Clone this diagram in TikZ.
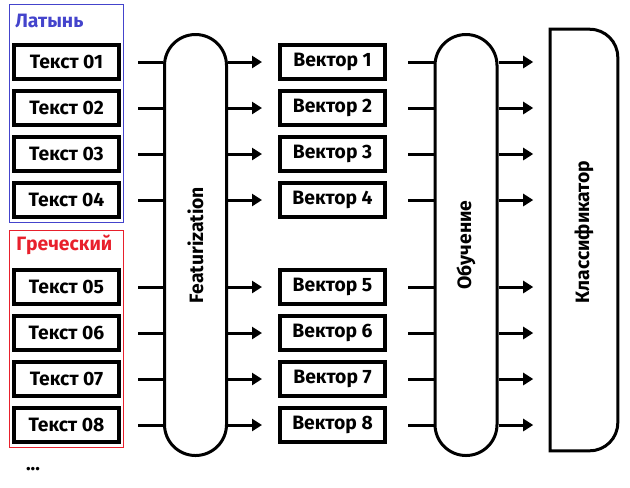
\documentclass[tikz,border=0pt]{standalone}
\usepackage{fontspec}
\setmainfont{Fira Sans}
\usepackage{tikz}
\usepackage{xcolor}
\usetikzlibrary{arrows.meta}

\definecolor{latinblue}{RGB}{68,68,204}
\definecolor{greekred}{RGB}{232,32,44}

\tikzset{
  txtbox/.style={draw, line width=3pt, minimum width=78.75pt, minimum height=25.5pt,
    inner sep=0pt, font=\bfseries\fontsize{14.5}{16}\selectfont},
  capsule/.style={draw, line width=2.25pt, minimum width=46.5pt, minimum height=315.75pt,
    rounded corners=23.25pt, inner sep=0pt},
  vlabel/.style={rotate=90, font=\bfseries\fontsize{14.5}{16}\selectfont},
  feed/.style={line width=2.25pt},
  flow/.style={line width=2.25pt, -{Triangle[length=7.5pt,width=9pt]}},
}

\begin{document}
\begin{tikzpicture}[x=0.75pt, y=-0.75pt]
  \useasboundingbox (0,0) rectangle (630,487);

  % Group frames
  \draw[latinblue, line width=0.75pt] (9,4) rectangle (123,222);
  \draw[greekred, line width=0.75pt] (9,230) rectangle (123,447);
  \node[anchor=west, inner sep=0pt, text=latinblue, font=\bfseries\fontsize{14.5}{16}\selectfont] (lat) at (15,21) {Латынь};
  \node[anchor=west, inner sep=0pt, text=greekred, font=\bfseries\fontsize{14.5}{16}\selectfont] (grc) at (16,245) {Греческий};

  % Processing stages
  \node[capsule] (feat) at (195.5,245) {};
  \node[vlabel] at (feat) {Featurization};
  \node[capsule] (train) at (466,245) {};
  \node[vlabel] at (train) {Обучение};
  \node[minimum width=50.25pt, minimum height=315.75pt, inner sep=0pt] (clf) at (584,240) {};
  \draw[line width=2.25pt] (clf.north west) -- ([xshift=-21pt]clf.north east)
    arc[start angle=90, end angle=0, radius=21pt] -- ([yshift=21pt]clf.south east)
    arc[start angle=0, end angle=-90, radius=21pt] -- (clf.south west) -- cycle;
  \node[vlabel] at (584,232) {Классификатор};

  % Texts, vectors and arrows
  \foreach \i/\y in {1/62, 2/108, 3/154, 4/200, 5/287, 6/333, 7/379, 8/425} {
    \node[txtbox] (t\i) at (66.5,\y) {Текст 0\i};
    \node[txtbox] (v\i) at (332.5,\y) {Вектор \i};
    \draw[feed, shorten <=12.75pt] (t\i.east) -- (t\i.east -| feat.west);
    \draw[flow, shorten >=12pt] (v\i.west -| feat.east) -- (v\i.west);
    \draw[feed, shorten <=15.75pt] (v\i.east) -- (v\i.east -| train.west);
    \draw[flow, shorten >=12.75pt] (v\i.east -| train.east) -- (v\i.east -| clf.west);
  }

  \node[font=\bfseries\fontsize{14.5}{16}\selectfont] (more) at (33,469) {...};
\end{tikzpicture}
\end{document}
